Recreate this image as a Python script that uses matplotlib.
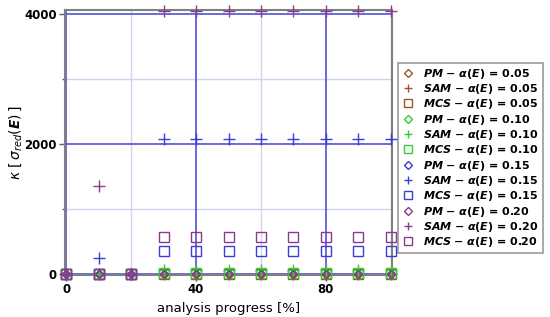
import matplotlib
matplotlib.use("Agg")
import matplotlib.pyplot as plt
from matplotlib.ticker import FixedLocator

progress = [0, 10, 20, 30, 40, 50, 60, 70, 80, 90, 100]
alphas = ["0.05", "0.10", "0.15", "0.20"]
colors = ["#A0522D", "#33CC33", "#3C3CD8", "#8A3C8A"]

pm_values = {
    "0.05": [0, 0, 0, 0, 0, 0, 0, 0, 0, 0, 0],
    "0.10": [0, 0, 0, 0, 0, 0, 0, 0, 0, 0, 0],
    "0.15": [0, 0, 0, 0, 0, 0, 0, 0, 0, 0, 0],
    "0.20": [0, 0, 0, 0, 0, 0, 0, 0, 0, 0, 0],
}
sam_values = {
    "0.05": [0, 0, 0, 5, 5, 5, 5, 5, 5, 5, 5],
    "0.10": [0, 0, 0, 60, 60, 60, 60, 60, 60, 60, 60],
    "0.15": [0, 250, 0, 2070, 2070, 2070, 2070, 2070, 2070, 2070, 2070],
    "0.20": [0, 1350, 0, 4050, 4050, 4050, 4050, 4050, 4050, 4050, 4050],
}
mcs_values = {
    "0.05": [0, 0, 0, 0, 0, 0, 0, 0, 0, 0, 0],
    "0.10": [0, 0, 0, 10, 10, 10, 10, 10, 10, 10, 10],
    "0.15": [0, 0, 0, 350, 350, 350, 350, 350, 350, 350, 350],
    "0.20": [0, 0, 0, 570, 570, 570, 570, 570, 570, 570, 570],
}

fig = plt.figure(figsize=(5.5, 3.17), dpi=100)
ax = fig.add_axes([0.118, 0.1325, 0.595, 0.836])

# grid
for xv in [20, 60, 100]:
    ax.axvline(xv, color="#D8D0F0", lw=1.0, zorder=0)
for yv in [1000, 3000]:
    ax.axhline(yv, color="#D8D0F0", lw=1.0, zorder=0)
for xv in [0, 40, 80]:
    ax.axvline(xv, color="#5050D8", lw=1.2, zorder=1)
for yv in [0, 2000, 4000]:
    ax.axhline(yv, color="#5050D8", lw=1.2, zorder=1)


def lab(method, a):
    return (r"$\mathbfit{" + method + r"}\ \mathbf{-}\ \boldsymbol{\alpha}\mathbf{(}"
            r"\mathbfit{E}\mathbf{)}\,\mathbf{=}\,\mathbf{" + a + r"}$")


handles = []
for a, c in zip(alphas, colors):
    h1, = ax.plot(progress, pm_values[a], linestyle="none", marker="D", markersize=4.5,
                  markerfacecolor="none", markeredgecolor=c, markeredgewidth=1.0, zorder=4,
                  label=lab("PM", a), clip_on=False)
    h2, = ax.plot(progress, sam_values[a], linestyle="none", marker="+", markersize=8,
                  color=c, markeredgewidth=1.0, zorder=4, label=lab("SAM", a), clip_on=False)
    h3, = ax.plot(progress, mcs_values[a], linestyle="none", marker="s", markersize=6.5,
                  markerfacecolor="none", markeredgecolor=c, markeredgewidth=1.0, zorder=4,
                  label=lab("MCS", a), clip_on=False)
    handles += [h1, h2, h3]

ax.set_xlim(-0.4, 100.4)
ax.set_ylim(-15, 4062)
ax.xaxis.set_major_locator(FixedLocator([0, 40, 80]))
ax.xaxis.set_minor_locator(FixedLocator([20, 60]))
ax.yaxis.set_major_locator(FixedLocator([0, 2000, 4000]))
ax.yaxis.set_minor_locator(FixedLocator([1000, 3000]))
ax.tick_params(axis="both", which="major", length=4, width=1, color="#606060",
               labelsize=8.5, pad=2)
ax.tick_params(axis="both", which="minor", length=2, width=1, color="#606060")
for t in ax.get_xticklabels() + ax.get_yticklabels():
    t.set_fontweight("bold")
for s in ax.spines.values():
    s.set_color("#808080")
    s.set_linewidth(1.5)

ax.set_xlabel("analysis progress [%]", fontsize=9.5, labelpad=4)
ax.set_ylabel(r"$\kappa\ \left[\,\sigma_{red}(\boldsymbol{E})\,\right]$", fontsize=10)
ax.yaxis.set_label_coords(-0.125, 0.5)

leg = fig.legend(handles=handles, loc="upper left", bbox_to_anchor=(0.724, 0.802),
                 fontsize=8, frameon=True, fancybox=False, edgecolor="#808080",
                 handlelength=1.0, handletextpad=0.9, labelspacing=0.12,
                 borderpad=0.35, borderaxespad=0, markerscale=0.8)
leg.get_frame().set_linewidth(1.2)

fig.savefig("out.png", dpi=100)
